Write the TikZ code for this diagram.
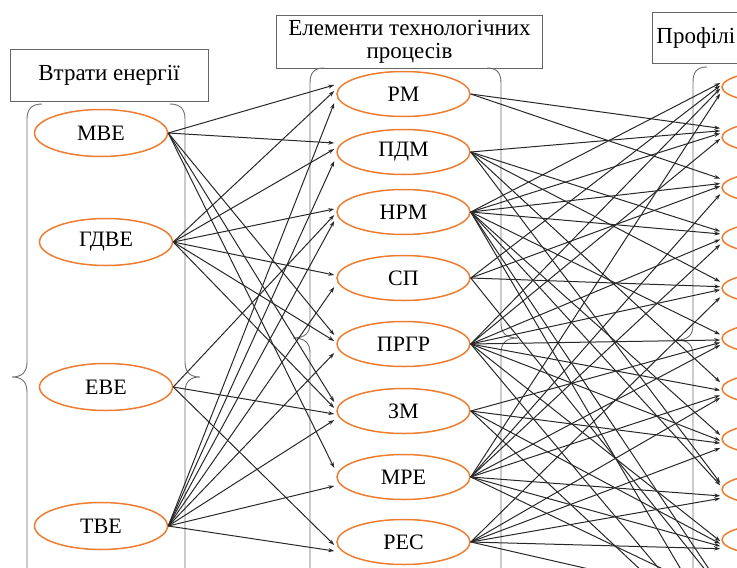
\documentclass[tikz,border=0pt]{standalone}
\usepackage{fontspec}
\setmainfont{Liberation Serif}
\usetikzlibrary{arrows.meta, calc, shapes.geometric}
\definecolor{ovalorange}{RGB}{237,125,49}
\definecolor{linegray}{RGB}{40,40,40}

\begin{document}
\begin{tikzpicture}[x=1pt, y=-1pt,
  oval/.style={ellipse, draw=ovalorange, line width=1.5pt, minimum width=133pt,
    minimum height=45pt, inner sep=0pt, font=\fontsize{22}{24}\selectfont},
  smalloval/.style={oval, minimum height=34pt},
  titlebox/.style={rectangle, draw=gray!80!black, line width=0.8pt, align=center,
    inner sep=4pt, font=\fontsize{23}{23}\selectfont},
  grp/.style={draw=gray!85!black, line width=0.9pt},
  arr/.style={-{Stealth[length=6pt,width=4pt]}, linegray, line width=1pt},
]
\useasboundingbox (0,0) rectangle (737,568);
\clip (0,0) rectangle (737,568);

% titles
\node[titlebox, minimum width=198pt, minimum height=52pt] (losstitle) at (109,75) {Втрати енергії};
\node[titlebox, minimum width=266pt, minimum height=53pt] (proctitle) at (409.5,41.5) {Елементи технологічних\\процесів};
\node[titlebox, anchor=west, text width=250pt, align=left, minimum height=51pt] (proftitle) at (652,37.5) {Профілі};

% brackets
\draw[grp] (42,104) .. controls (32,104) and (27,109) .. (27,119) -- (27,362)
  .. controls (27,372) and (22,377) .. (12,377) .. controls (22,377) and (27,382) .. (27,392) -- (27,640);
\draw[grp] (170,104) .. controls (180,104) and (185,109) .. (185,119) -- (185,362)
  .. controls (185,372) and (190,377) .. (200,377) .. controls (190,377) and (185,382) .. (185,392) -- (185,640);
\draw[grp] (324,68) .. controls (314,68) and (310,73) .. (310,83) -- (310,323)
  .. controls (310,333) and (305,338) .. (293,338) .. controls (305,338) and (310,343) .. (310,353) -- (310,610);
\draw[grp] (487,68) .. controls (497,68) and (501,73) .. (501,83) -- (501,323)
  .. controls (501,333) and (506,338) .. (518,338) .. controls (506,338) and (501,343) .. (501,353) -- (501,610);
\draw[grp] (707,67) .. controls (697,67) and (693,72) .. (693,82) -- (693,325)
  .. controls (693,335) and (688,340) .. (677,340) .. controls (688,340) and (693,345) .. (693,355) -- (693,610);

% energy losses
\node[oval, minimum height=47pt] (mbe) at (101,133) {МВЕ};
\node[oval, minimum height=47pt] (gdve) at (106,242) {ГДВЕ};
\node[oval, minimum height=47pt] (eve) at (106,387) {ЕВЕ};
\node[oval, minimum height=47pt] (tve) at (101,526) {ТВЕ};

% process elements
\node[oval] (pm) at (403.5,94) {РМ};
\node[oval] (pdm) at (403.5,152) {ПДМ};
\node[oval] (nrm) at (403.5,212) {НРМ};
\node[oval] (sp) at (403.5,278) {СП};
\node[oval] (prgr) at (403.5,344) {ПРГР};
\node[oval] (zm) at (403.5,411) {ЗМ};
\node[oval] (mre) at (403.5,477) {МРЕ};
\node[oval] (res) at (403.5,542) {РЕС};

% profiles
\foreach \i in {1,...,12}
  \node[smalloval] (r\i) at (788.5,{36.7+50.3*\i}) {};

% losses -> elements
\foreach \t in {pm,pdm,prgr,zm,mre} \draw[arr] (mbe.east) -- ($(\t.west)+(-2,-9)$);
\foreach \t in {pm,pdm,nrm,sp,prgr,zm} \draw[arr] (gdve.east) -- ($(\t.west)+(-2,-3)$);
\foreach \t in {nrm,zm,res} \draw[arr] (eve.east) -- ($(\t.west)+(-2,3)$);
\foreach \t in {pm,pdm,nrm,sp,prgr,zm,mre,res} \draw[arr] (tve.east) -- ($(\t.west)+(-2,9)$);

% elements -> profiles
\foreach \t in {r2,r3} \draw[arr] (pm.east) -- ($(\t.west)+(-1,-9)$);
\foreach \t in {r2,r4,r5,r7,r9} \draw[arr] (pdm.east) -- ($(\t.west)+(-1,-6.5)$);
\foreach \t in {r1,r2,r3,r4,r6,r8,r9,r11,r12} \draw[arr] (nrm.east) -- ($(\t.west)+(-1,-4)$);
\foreach \t in {r1,r3,r5,r11} \draw[arr] (sp.east) -- ($(\t.west)+(-1,-1.5)$);
\foreach \t in {r1,r2,r4,r5,r6,r7,r8,r10,r12} \draw[arr] (prgr.east) -- ($(\t.west)+(-1,1.5)$);
\foreach \t in {r6,r8,r10,r12} \draw[arr] (zm.east) -- ($(\t.west)+(-1,4)$);
\foreach \t in {r1,r3,r4,r6,r7,r9,r10,r11} \draw[arr] (mre.east) -- ($(\t.west)+(-1,6.5)$);
\foreach \t in {r5,r7,r8,r9,r10,r11} \draw[arr] (res.east) -- ($(\t.west)+(-1,9)$);

\end{tikzpicture}
\end{document}
